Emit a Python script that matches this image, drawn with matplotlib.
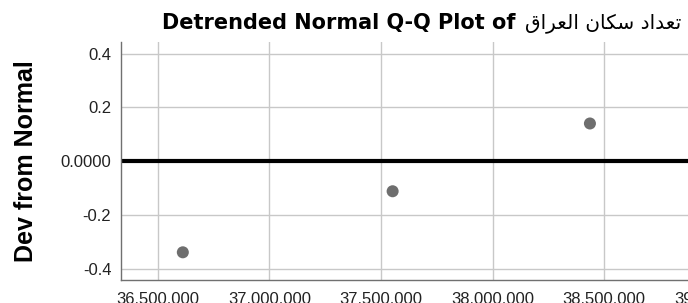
import matplotlib
matplotlib.use('Agg')
import matplotlib.pyplot as plt
from matplotlib.ticker import FuncFormatter, FixedLocator, FixedFormatter

# observed values (population) and deviation from normal
obs_values = [36612000, 37552000, 38436000]
dev_values = [-0.339, -0.112, 0.140]

x_ticks = [36500000, 37000000, 37500000, 38000000, 38500000, 39000000]
y_ticks = [-0.4, -0.2, 0.0, 0.2, 0.4]
y_tick_labels = ['-0.4', '-0.2', '0.0000', '0.2', '0.4']

# Arabic words in shaped presentation forms, visual (left to right) order
arabic_title = ('\ufed5\ufe8d\ufeae\ufecc\ufedf\ufe8d' + ' ' +
                '\ufee5\ufe8e\ufedc\ufeb3' + ' ' +
                '\ufea9\ufe8d\ufeaa\ufecc\ufe97')
title_en = 'Detrended Normal Q-Q Plot of'

plt.rcParams['font.family'] = ['Liberation Sans', 'DejaVu Sans']

W, H = 688, 303
fig = plt.figure(figsize=(W / 100, H / 100), dpi=100)
fig.patch.set_facecolor('white')

# axes runs off the right edge of the picture, like the reference
left, right, bottom, top = 121, 760, 280, 42
ax = fig.add_axes([left / W, (H - bottom) / H, (right - left) / W, (bottom - top) / H])

ax.set_xlim(36335000, 39198000)
ax.set_ylim(-0.442, 0.443)

ax.xaxis.set_major_locator(FixedLocator(x_ticks))
ax.xaxis.set_major_formatter(FuncFormatter(lambda v, p: f'{int(v):,}'))
ax.yaxis.set_major_locator(FixedLocator(y_ticks))
ax.yaxis.set_major_formatter(FixedFormatter(y_tick_labels))

ax.grid(True, color='#c8c8c8', linewidth=1.0)
ax.set_axisbelow(True)
ax.axhline(0, color='black', linewidth=3, zorder=2)

ax.scatter(obs_values, dev_values, s=75, color='#6e6e6e', edgecolors='none', zorder=3)

for s in ['top', 'right']:
    ax.spines[s].set_visible(False)
for s in ['left', 'bottom']:
    ax.spines[s].set_color('#707070')
    ax.spines[s].set_linewidth(1.0)

ax.tick_params(axis='both', length=0, labelsize=12, colors='#222222')
ax.tick_params(axis='y', pad=7)
ax.tick_params(axis='x', pad=9)

# title: bold latin part, regular arabic part
fig.text(515 / W, (H - 28.5) / H, title_en, ha='right', va='baseline',
         fontsize=15, fontweight='bold', family='DejaVu Sans')
fig.text(525 / W, (H - 28.5) / H, arabic_title, ha='left', va='baseline',
         fontsize=14.5, family='DejaVu Sans')
fig.text(26 / W, (H - 161) / H, 'Dev from Normal', ha='center', va='center',
         rotation=90, fontsize=18, fontweight='bold')

fig.savefig('out.png', dpi=100)
